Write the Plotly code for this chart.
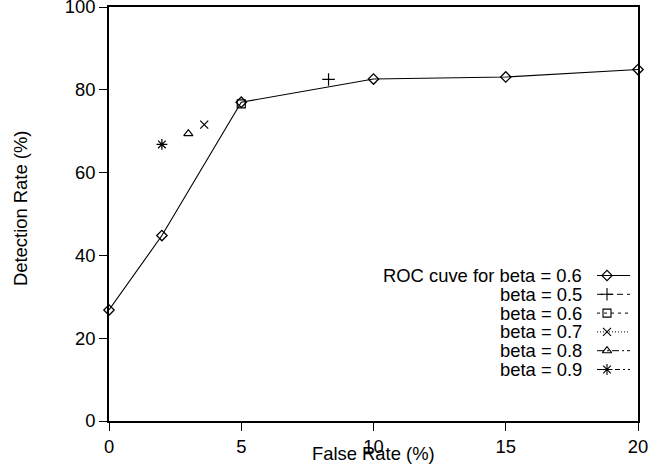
import plotly.graph_objects as go

# ---- data ----
roc_x = [0, 2, 5, 10, 15, 20]
roc_y = [26.8, 44.8, 77.0, 82.6, 83.1, 84.9]

beta_labels = ["beta = 0.5", "beta = 0.6", "beta = 0.7", "beta = 0.8", "beta = 0.9"]
beta_x = [8.3, 5.0, 3.6, 3.0, 2.0]
beta_y = [82.5, 76.6, 71.6, 69.4, 66.8]
roc_label = "ROC cuve for beta = 0.6"

x_ticks = [0, 5, 10, 15, 20]
y_ticks = [0, 20, 40, 60, 80, 100]
x_title = "False Rate (%)"
y_title = "Detection Rate (%)"

# ---- styles ----
FONT = "Liberation Sans, Arial, Helvetica, sans-serif"
FS = 18.4
beta_symbols = ["cross-thin-open", "square-open", "x-thin-open", "triangle-up-open", "asterisk-open"]
beta_sizes = [9, 8, 8, 8, 9]
beta_dash = ["6px,4px", "3px,4px", "1px,2px", "7px,3px,2px,3px", "5px,3px,2px,3px,2px,3px"]

W, H = 649, 473
ML, MR, MT, MB = 109, 11, 7, 52
PW, PH = W - ML - MR, H - MT - MB

fig = go.Figure()

fig.add_trace(go.Scatter(
    x=roc_x, y=roc_y, mode="lines+markers",
    line=dict(color="black", width=1.1),
    marker=dict(symbol="diamond-open", size=8, color="black", line=dict(width=1.3)),
    showlegend=False, cliponaxis=False,
))
for lab, bx, by, sym, sz in zip(beta_labels, beta_x, beta_y, beta_symbols, beta_sizes):
    fig.add_trace(go.Scatter(
        x=[bx], y=[by], mode="markers",
        marker=dict(symbol=sym, size=sz, color="black", line=dict(width=1.2, color="black")),
        showlegend=False, cliponaxis=False,
    ))

# ---- custom legend (text left of symbol, right-aligned) on a pixel-unit overlay axis ----
leg_labels = [roc_label] + beta_labels
leg_symbols = ["diamond-open"] + beta_symbols
leg_sizes = [8] + beta_sizes
leg_dash = ["solid"] + beta_dash
row0 = (MT + PH) - 275.5   # first row, pixels above plot bottom
row_step = 18.8
seg_x0, seg_x1, mark_x = 597 - ML, 630 - ML, 607 - ML
text_x = 584 - ML
for i, (lab, sym, sz, dash) in enumerate(zip(leg_labels, leg_symbols, leg_sizes, leg_dash)):
    yy = row0 - i * row_step
    fig.add_trace(go.Scatter(
        x=[seg_x0, seg_x1], y=[yy, yy], mode="lines",
        line=dict(color="black", width=1, dash=dash),
        xaxis="x2", yaxis="y2", showlegend=False, hoverinfo="skip",
    ))
    fig.add_trace(go.Scatter(
        x=[mark_x], y=[yy], mode="markers",
        marker=dict(symbol=sym, size=sz, color="black", line=dict(width=1.1, color="black")),
        xaxis="x2", yaxis="y2", showlegend=False, hoverinfo="skip",
    ))
    fig.add_annotation(
        x=text_x, y=yy, xref="x2", yref="y2", text=lab, showarrow=False,
        xanchor="right", yanchor="middle", font=dict(family=FONT, size=FS, color="black"),
    )

# axis titles
fig.add_annotation(x=0.5, y=0, xref="paper", yref="paper", yshift=-32, text=x_title,
                   showarrow=False, xanchor="center", yanchor="middle",
                   font=dict(family=FONT, size=FS, color="black"))
fig.add_annotation(x=0, y=0.5, xref="paper", yref="paper", xshift=-89, yshift=5, text=y_title,
                   textangle=-90, showarrow=False, xanchor="center", yanchor="middle",
                   font=dict(family=FONT, size=FS, color="black"))

axis_common = dict(
    showgrid=False, zeroline=False, showline=True, linecolor="black", linewidth=1.6,
    mirror=True, ticks="outside", ticklen=8, tickwidth=1.3, tickcolor="black",
    tickfont=dict(family=FONT, size=FS, color="black"),
    automargin=False, ticklabeloverflow="allow",
)

fig.update_layout(
    width=W, height=H,
    margin=dict(l=ML, r=MR, t=MT, b=MB, autoexpand=False),
    paper_bgcolor="white", plot_bgcolor="white",
    font=dict(family=FONT, size=FS, color="black"),
    xaxis=dict(range=[0, 20], tickvals=x_ticks, ticktext=[str(v) for v in x_ticks], **axis_common),
    yaxis=dict(range=[0, 100], tickvals=y_ticks, ticktext=[str(v) for v in y_ticks], **axis_common),
    xaxis2=dict(overlaying="x", range=[0, PW], visible=False, fixedrange=True),
    yaxis2=dict(overlaying="y", range=[0, PH], visible=False, fixedrange=True),
    showlegend=False,
)

fig.write_html("out.html", config={"displayModeBar": False},
               post_script="document.body.style.margin='0';")
